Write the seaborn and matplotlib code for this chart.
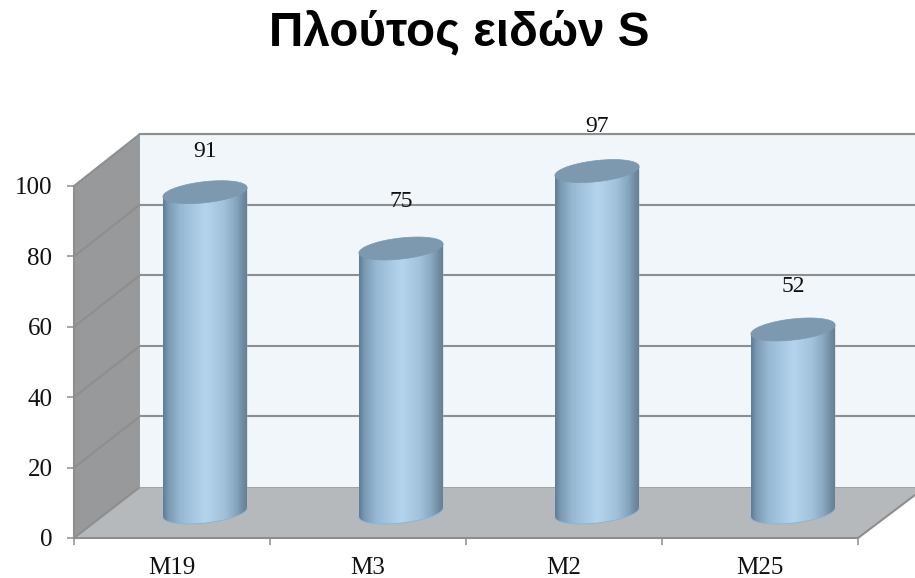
import numpy as np
import pandas as pd
import matplotlib
matplotlib.use("Agg")
import matplotlib.pyplot as plt
from matplotlib.colors import LinearSegmentedColormap
from matplotlib.patches import Polygon
import seaborn as sns

title = "Πλούτος ειδών S"
categories = ["M19", "M3", "M2", "M25"]
values = [91, 75, 97, 52]
y_ticks = [0, 20, 40, 60, 80, 100]

W, H = 915, 578
sns.set_theme(style="white")
plt.rcParams["font.family"] = ["Liberation Serif", "DejaVu Serif"]

fig = plt.figure(figsize=(W / 100, H / 100), dpi=100)
fig.patch.set_facecolor("white")


def px_axes(x0, y_top, x1, y_bot, zorder):
    return fig.add_axes([x0 / W, 1 - y_bot / H, (x1 - x0) / W, (y_bot - y_top) / H],
                        zorder=zorder)


GRID = "#8e8e8e"
LW = 1.5

# Backdrop: side wall and floor of the 3D box (pixel coordinates)
bg = px_axes(0, 0, W, H, 0)
bg.set_xlim(0, W)
bg.set_ylim(H, 0)
bg.axis("off")
bg.add_patch(Polygon([(74, 186), (140, 134), (140, 487), (74, 538)],
                     closed=True, fc="#97999a", ec="none"))
bg.add_patch(Polygon([(74, 538), (140, 487), (915, 487), (915, 495), (858, 538)],
                     closed=True, fc="#b6b9bb", ec="none"))
for t in y_ticks:
    frac = t / max(y_ticks)
    bg.plot([74, 140], [538 - 352 * frac, 487 - 353 * frac], color=GRID, lw=LW)
bg.plot([140, 140], [134, 487], color="#a6a8a9", lw=1)
bg.plot([858, 915], [538, 495], color=GRID, lw=LW, clip_on=True)
bg.plot([140, 915], [487, 487], color="#a0a2a3", lw=LW)

# Back wall with gridlines
back = px_axes(140, 134, 915, 487, 1)
back.set_facecolor("#f0f6fa")
back.set_xlim(0, 1)
back.set_ylim(0, 100)
back.set_xticks([])
back.set_yticks(y_ticks[1:])
back.tick_params(left=False, labelleft=False)
back.yaxis.grid(True, color=GRID, lw=LW)
back.set_axisbelow(True)
for s in back.spines.values():
    s.set_visible(False)
back.spines["top"].set_visible(True)
back.spines["top"].set_color(GRID)
back.spines["top"].set_linewidth(LW)

# Front axes: the readable value and category axes
front = px_axes(74, 186, 858, 538, 2)
front.patch.set_alpha(0)
front.set_xlim(-0.5, 3.5)
front.set_ylim(0, 100)
front.set_yticks(y_ticks)
front.set_xticks(np.arange(-0.5, 4, 1))
front.set_xticklabels([])
front.set_xticks(range(len(categories)), categories, minor=True)
front.tick_params(axis="y", which="major", left=True, length=5, width=1.1, color=GRID,
                  labelsize=18, pad=10.5, labelcolor="#111111")
front.tick_params(axis="x", which="major", bottom=True, length=5, width=1.1, color=GRID)
front.tick_params(axis="x", which="minor", bottom=False, labelsize=18, pad=10,
                  labelcolor="#111111")
for s in ("top", "right"):
    front.spines[s].set_visible(False)
for s in ("left", "bottom"):
    front.spines[s].set_color(GRID)
    front.spines[s].set_linewidth(LW)

# Bars sit half way into the box depth
ZERO_PX = 512.5
ax = px_axes(107, ZERO_PX - 103 * 3.52, 891, ZERO_PX + 10 * 3.52, 3)
ax.patch.set_alpha(0)
df = pd.DataFrame({"sample": categories, "S": values})
BAR_W = 0.43
sns.barplot(data=df, x="sample", y="S", ax=ax, color="#a4c6e0", width=BAR_W,
            saturation=1, order=categories)
ax.set_xlim(-0.5, 3.5)
ax.set_ylim(-10, 103)
ax.axis("off")

cyl = LinearSegmentedColormap.from_list(
    "cyl",
    [(0.0, "#5f7d94"), (0.06, "#7a99b2"), (0.20, "#97b8d2"), (0.50, "#b5d5ef"),
     (0.72, "#a2c2dc"), (0.86, "#87a6bf"), (0.95, "#6f8a9f"), (1.0, "#647d90")])

a = BAR_W / 2
b = 3.0     # ellipse half height, value units
s = 1.28    # ellipse tilt, value units
label_shift_px = [41, 47, 45, 43]
theta = np.linspace(0, 2 * np.pi, 121)
lower = np.linspace(np.pi, 2 * np.pi, 61)

for i, (patch, v) in enumerate(zip(ax.patches, values)):
    arc_x = i + a * np.cos(lower)
    arc_y = s * np.cos(lower) + b * np.sin(lower)
    body_xy = np.vstack([[i - a, v - s], np.column_stack([arc_x, arc_y]), [i + a, v + s]])
    body = Polygon(body_xy, closed=True, transform=ax.transData, fc="none", ec="none")
    ax.add_patch(body)
    patch.set_clip_path(body)
    im = ax.imshow(np.linspace(0, 1, 200)[None, :], cmap=cyl, aspect="auto",
                   extent=(i - a, i + a, -6, v + 3), zorder=3, interpolation="bilinear")
    im.set_clip_path(body)
    ax.plot(arc_x, arc_y, color="#8db4d3", lw=0.7, zorder=4)
    ax.fill(i + a * np.cos(theta), v + s * np.cos(theta) + b * np.sin(theta),
            fc="#7d99af", ec="#7d99af", lw=0.5, zorder=5)
    ax.annotate(str(v), (i, v), xytext=(0, label_shift_px[i] * 0.72),
                textcoords="offset points", ha="center", va="center",
                fontsize=17, color="#111111", zorder=6)

ax.set_xlim(-0.5, 3.5)
ax.set_ylim(-10, 103)

fig.text(459 / W, 1 - 33 / H, title, ha="center", va="center", fontsize=34.3,
         fontweight="bold", family=["Liberation Sans", "DejaVu Sans"], color="black")

fig.savefig("out.png", dpi=100, facecolor="white")
